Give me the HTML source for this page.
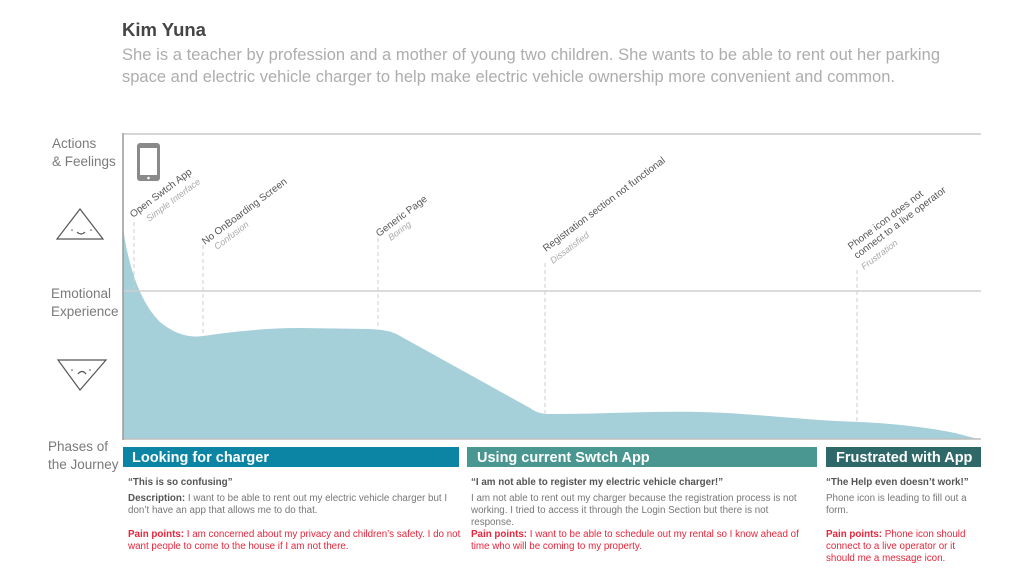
<!DOCTYPE html>
<html><head><meta charset="utf-8"><style>
html,body{margin:0;padding:0;background:#fff;}
svg{display:block;}
text{font-family:"Liberation Sans",Arial,sans-serif;}
</style></head><body>
<svg width="1024" height="574" viewBox="0 0 1024 574" xmlns="http://www.w3.org/2000/svg">
<rect width="1024" height="574" fill="#fff"/>
<!-- header -->
<text x="122" y="36" font-size="18.5" font-weight="bold" fill="#454545">Kim Yuna</text>
<text x="122" y="60" font-size="16.5" fill="#adadad" textLength="818" lengthAdjust="spacing">She is a teacher by profession and a mother of young two children. She wants to be able to rent out her parking</text>
<text x="122" y="82" font-size="16.5" fill="#adadad" textLength="773" lengthAdjust="spacing">space and electric vehicle charger to help make electric vehicle ownership more convenient and common.</text>

<!-- left labels -->
<g font-size="13.5" fill="#7a7a7a">
<text x="52" y="148">Actions</text>
<text x="52" y="166">&amp; Feelings</text>
<text x="51" y="298">Emotional</text>
<text x="51" y="316">Experience</text>
<text x="48" y="451">Phases of</text>
<text x="48" y="469">the Journey</text>
</g>

<!-- triangles -->
<g fill="none" stroke="#555" stroke-width="1.2">
<path d="M80,209 L57,239 L103,239 Z"/>
<path d="M77,232 Q81,236 85,232"/>
<path d="M58,360 L106,360 L80,390 Z"/>
<path d="M78,374 Q82,369 86,374"/>
</g>
<g fill="#555">
<circle cx="72" cy="230" r="0.8"/><circle cx="91" cy="230" r="0.8"/>
<circle cx="72" cy="370" r="0.8"/><circle cx="90" cy="370" r="0.8"/>
</g>

<!-- chart frame -->
<path d="M123,439 L123,228 C128,262 138,300 160,322 C175,334 188,338 203,336 C230,332 265,328 300,328 L370,329 C385,330 392,331 400,336 L530,408 C537,413 542,414 552,414 C600,414 650,411 700,412 C750,413 800,420 860,422 C900,424 930,428 955,433 L978,439 Z" fill="#a5cfd9"/>
<line x1="123" y1="134" x2="981" y2="134" stroke="#c9c9c9" stroke-width="1.5"/>
<line x1="123" y1="291" x2="981" y2="291" stroke="#cfcfcf" stroke-width="1.5"/>
<line x1="123" y1="439" x2="981" y2="439" stroke="#bdbdbd" stroke-width="1.5"/>
<line x1="123" y1="133" x2="123" y2="440" stroke="#9a9a9a" stroke-width="1.5"/>

<!-- dashed markers -->
<g stroke="#cfcfcf" stroke-width="1" stroke-dasharray="4,3">
<line x1="134" y1="222" x2="134" y2="290"/>
<line x1="203" y1="245" x2="203" y2="336"/>
<line x1="378" y1="238" x2="378" y2="329"/>
<line x1="545" y1="263" x2="545" y2="413"/>
<line x1="857" y1="270" x2="857" y2="422"/>
</g>

<!-- phone icon -->
<rect x="137" y="143" width="23" height="38" rx="3" fill="#8a8a8a"/>
<rect x="140" y="148" width="17" height="27" fill="#fff"/>
<circle cx="148.5" cy="178" r="1.3" fill="#fff"/>

<!-- rotated labels -->
<g font-size="10" fill="#555">
<text transform="translate(133,218) rotate(-37)">Open Swtch App</text>
<text transform="translate(205,245) rotate(-37)">No OnBoarding Screen</text>
<text transform="translate(379,237) rotate(-37)">Generic Page</text>
<text transform="translate(546,252) rotate(-37)">Registration section not functional</text>
<text transform="translate(851,250) rotate(-37)">Phone icon does not</text>
<text transform="translate(857,259) rotate(-37)">connect to a live operator</text>
</g>
<g font-size="9" fill="#a8a8a8" font-style="italic">
<text transform="translate(149,222) rotate(-37)">Simple Interface</text>
<text transform="translate(217,250) rotate(-37)">Confusion</text>
<text transform="translate(391,241) rotate(-37)">Boring</text>
<text transform="translate(553,264) rotate(-37)">Dissatisfied</text>
<text transform="translate(864,270) rotate(-37)">Frustration</text>
</g>

<!-- phase bars -->
<rect x="123" y="447" width="336" height="20" fill="#0b85a3"/>
<rect x="467" y="447" width="350" height="20" fill="#4a9691"/>
<rect x="826" y="447" width="155" height="20" fill="#2f6869"/>
<g font-size="14.5" font-weight="bold" fill="#fff">
<text x="132" y="462">Looking for charger</text>
<text x="477" y="462">Using current Swtch App</text>
<text x="836" y="462">Frustrated with App</text>
</g>

<!-- column 1 -->
<g font-size="9.8">
<text x="128" y="485" font-weight="bold" fill="#555">“This is so confusing”</text>
<text x="128" y="501" fill="#777"><tspan font-weight="bold" fill="#555">Description:</tspan> I want to be able to rent out my electric vehicle charger but I</text>
<text x="128" y="513" fill="#777">don’t have an app that allows me to do that.</text>
<text x="128" y="537" fill="#e8253a"><tspan font-weight="bold">Pain points:</tspan> I am concerned about my privacy and children’s safety. I do not</text>
<text x="128" y="549" fill="#e8253a">want people to come to the house if I am not there.</text>
</g>
<!-- column 2 -->
<g font-size="9.8">
<text x="471" y="485" font-weight="bold" fill="#555">“I am not able to register my electric vehicle charger!”</text>
<text x="471" y="501" fill="#777">I am not able to rent out my charger because the registration process is not</text>
<text x="471" y="513" fill="#777">working. I tried to access it through the Login Section but there is not</text>
<text x="471" y="525" fill="#777">response.</text>
<text x="471" y="537" fill="#e8253a"><tspan font-weight="bold">Pain points:</tspan> I want to be able to schedule out my rental so I know ahead of</text>
<text x="471" y="549" fill="#e8253a">time who will be coming to my property.</text>
</g>
<!-- column 3 -->
<g font-size="9.8">
<text x="826" y="485" font-weight="bold" fill="#555">“The Help even doesn’t work!”</text>
<text x="826" y="501" fill="#777">Phone icon is leading to fill out a</text>
<text x="826" y="513" fill="#777">form.</text>
<text x="826" y="537" fill="#e8253a"><tspan font-weight="bold">Pain points:</tspan>  Phone icon should</text>
<text x="826" y="549" fill="#e8253a">connect to a live operator or it</text>
<text x="826" y="561" fill="#e8253a">should me a message icon.</text>
</g>
</svg>
</body></html>
